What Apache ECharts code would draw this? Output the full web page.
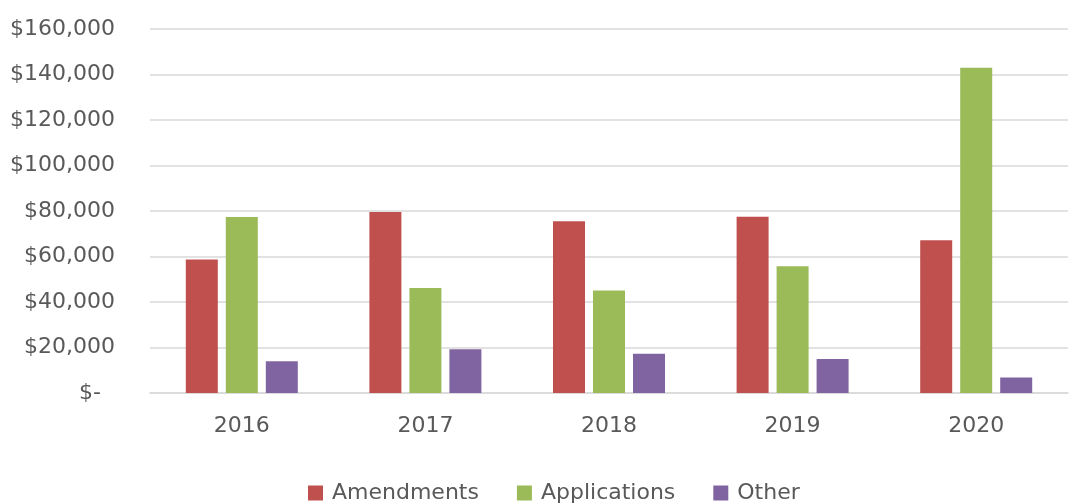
<!DOCTYPE html>
<html>
<head>
<meta charset="utf-8">
<script src="https://cdn.jsdelivr.net/npm/echarts@6/dist/echarts.min.js"></script>
<style>
  html, body { margin: 0; padding: 0; background: #fff; }
  #main { width: 1070px; height: 504px; }
</style>
</head>
<body>
<div id="main"></div>
<script>
// data
const years = ['2016', '2017', '2018', '2019', '2020'];
const amendments = [58700, 79600, 75500, 77500, 67100];
const applications = [77400, 46200, 45100, 55700, 143000];
const other = [14000, 19200, 17200, 15000, 6800];

const myChart = echarts.init(document.getElementById('main'));

function money(v) {
  if (v === 0) return '$-  ';
  return '$' + v.toLocaleString('en-US');
}

const option = {
  animation: false,
  textStyle: { fontFamily: 'DejaVu Sans' },
  color: ['#C0504D', '#9BBB59', '#8064A2'],
  grid: {
    left: 150,
    right: 2,
    top: 29,
    bottom: 111
  },
  legend: {
    top: 477,
    left: 303,
    itemWidth: 15,
    itemHeight: 15,
    itemGap: 38,
    icon: 'rect',
    textStyle: { fontSize: 22, color: '#595959', fontFamily: 'DejaVu Sans', padding: [0, 0, 0, 4] },
    data: ['Amendments', 'Applications', 'Other']
  },
  xAxis: {
    type: 'category',
    data: years,
    axisLine: { lineStyle: { color: '#d9d9d9', width: 1.5 } },
    axisTick: { show: false },
    axisLabel: { fontSize: 22, color: '#595959', margin: 22 }
  },
  yAxis: {
    type: 'value',
    min: 0,
    max: 160000,
    interval: 20000,
    axisLine: { show: false },
    axisTick: { show: false },
    splitLine: { lineStyle: { color: '#d9d9d9', width: 1.5 } },
    axisLabel: {
      fontSize: 22,
      color: '#595959',
      margin: 35,
      formatter: money
    }
  },
  series: [
    { name: 'Amendments', type: 'bar', data: amendments, barWidth: 32, barGap: '25%', barCategoryGap: '39%' },
    { name: 'Applications', type: 'bar', data: applications, barWidth: 32, barGap: '25%' },
    { name: 'Other', type: 'bar', data: other, barWidth: 32, barGap: '25%' }
  ]
};

myChart.setOption(option);
</script>
</body>
</html>
